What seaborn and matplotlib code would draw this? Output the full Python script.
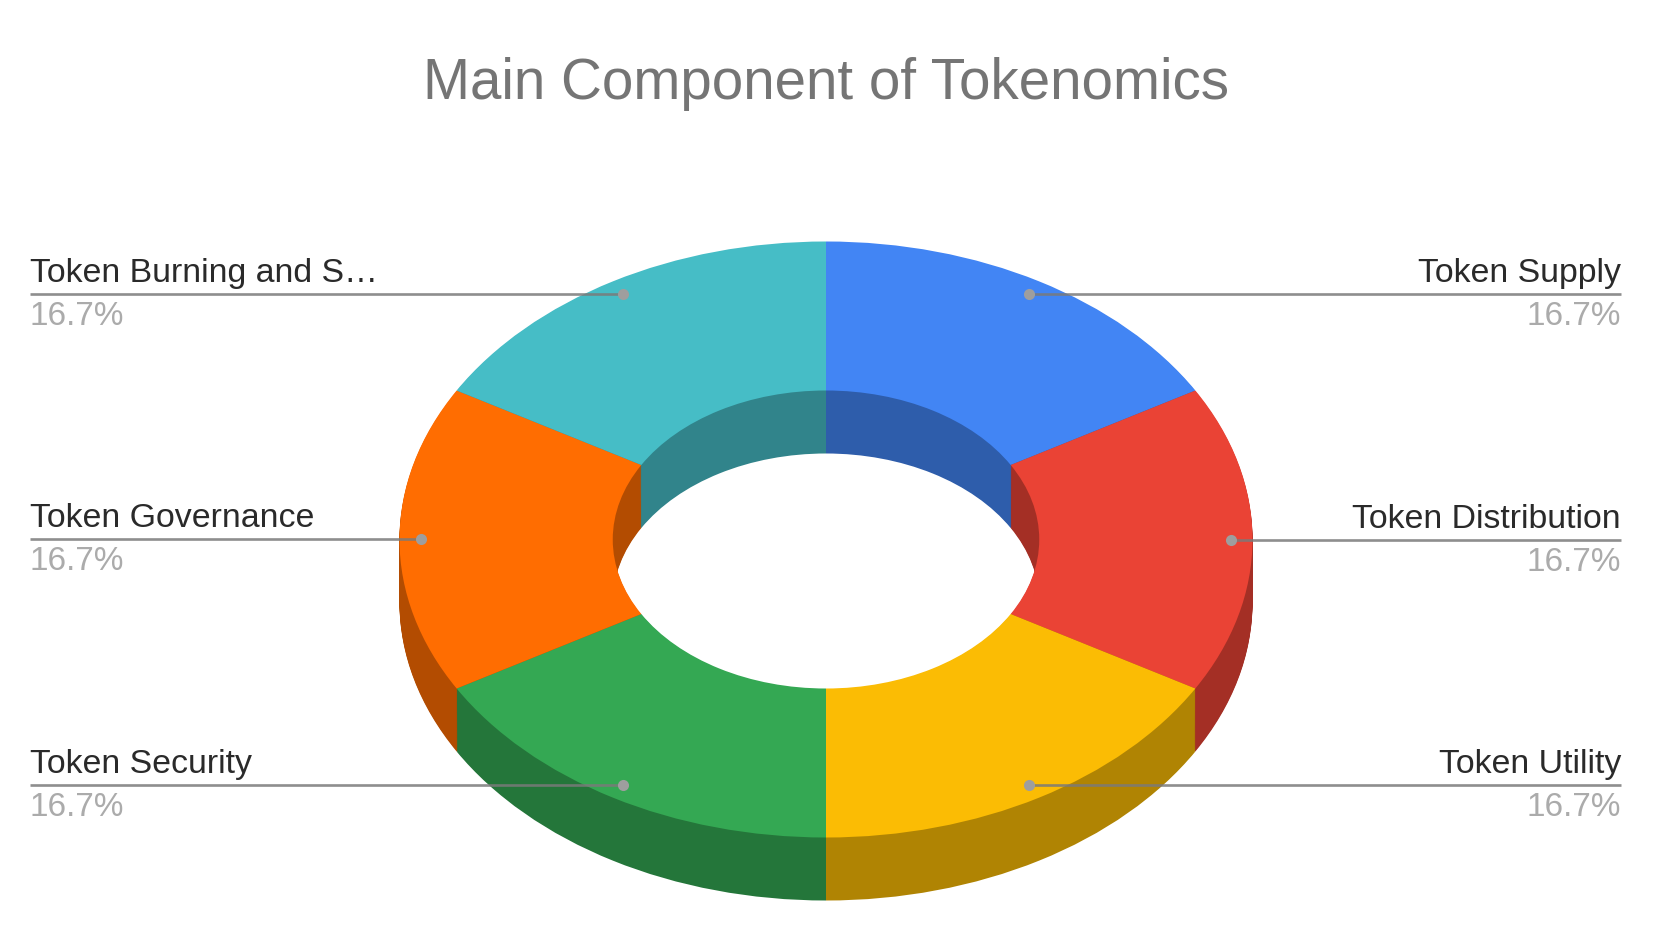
# Main Component of Tokenomics - 3D style donut (Google Sheets look)

import matplotlib
matplotlib.use('Agg')
import matplotlib.pyplot as plt
import numpy as np
import seaborn as sns

categories = ['Token Supply', 'Token Distribution', 'Token Utility',
              'Token Security', 'Token Governance', 'Token Burning and S…']
shares = [16.7, 16.7, 16.7, 16.7, 16.7, 16.7]
slice_colors = ['#4285F4', '#EA4335', '#FBBC04', '#34A853', '#FF6D01', '#46BDC6']

W, H = 1680, 944
CX, CY = 826, 539.5      # centre of top face, pixels
RX, RY = 426.5, 298      # outer radii, pixels
DEPTH = 63 / RY          # extrusion in data units

sns.set_theme(style='white')
plt.rcParams['font.family'] = ['Liberation Sans', 'DejaVu Sans']

palette = sns.color_palette(slice_colors)
dark = [tuple(c * 0.7 for c in col) for col in palette]

fig = plt.figure(figsize=(W / 100, H / 100), dpi=100)
ax = fig.add_axes([0, 0, 1, 1])


def ring(colors, drop=0.0):
    return ax.pie(shares, colors=colors, startangle=90, counterclock=False,
                  radius=1, center=(0, -drop),
                  wedgeprops={'width': 0.5, 'linewidth': 0})[0]


# side walls: stack the darker ring from the bottom up, about 1 px a step
for drop in np.linspace(DEPTH, 0.003, 64):
    ring(dark, drop)
wedges = ring(palette)

ax.set_aspect('auto')
ax.set_xlim(-CX / RX, (W - CX) / RX)
ax.set_ylim(-(H - CY) / RY, CY / RY)

# leader lines and labels
LEFT_X, RIGHT_X = 30, 1621
for name, val, w in zip(categories, shares, wedges):
    mid = np.deg2rad((w.theta1 + w.theta2) / 2)
    dx, dy = 0.95 * np.cos(mid), 0.95 * np.sin(mid)
    right = dx > 0
    edge = (RIGHT_X - CX) / RX if right else (LEFT_X - CX) / RX
    ax.plot([dx, edge], [dy, dy], color='#7A7A7A', lw=1.9, alpha=0.85,
            solid_capstyle='butt', zorder=5)
    ax.plot(dx, dy, 'o', color='#9E9E9E', ms=8, mew=0, zorder=6)

    ypx = CY - dy * RY
    tx = (RIGHT_X if right else LEFT_X) / W
    ha = 'right' if right else 'left'
    fig.text(tx, 1 - (ypx - 12) / H, name, ha=ha, va='baseline',
             fontsize=24.4, color='#2A2A2A')
    fig.text(tx, 1 - (ypx + 31) / H, f'{val:.1f}%', ha=ha, va='baseline',
             fontsize=24, color='#ABABAB')

fig.text(826 / W, 1 - 99 / H, 'Main Component of Tokenomics', ha='center',
         va='baseline', fontsize=40.7, color='#757575')

fig.savefig('out.png', dpi=100, facecolor='white')
